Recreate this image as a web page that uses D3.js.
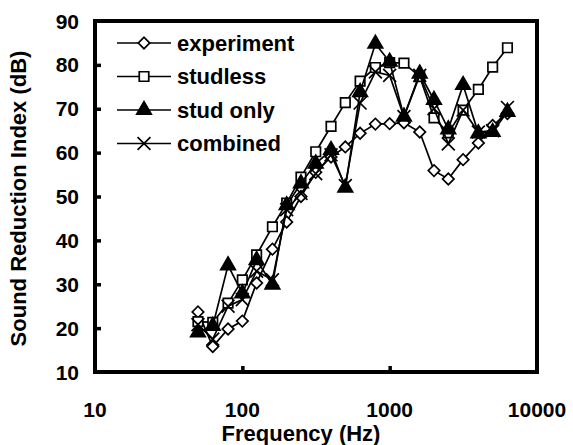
<!DOCTYPE html>
<html>
<head>
<meta charset="utf-8">
<script src="https://cdn.jsdelivr.net/npm/d3@7"></script>
<style>
  body { margin: 0; background: #fff; }
  svg text { font-family: "Liberation Sans", Arial, sans-serif; font-weight: bold; fill: #000; }
</style>
</head>
<body>
<div id="chart"></div>
<script>
// one-third octave band centre frequencies (Hz)
const freqs = [50, 63, 80, 100, 125, 160, 200, 250, 315, 400, 500, 630, 800, 1000, 1250, 1600, 2000, 2500, 3150, 4000, 5000, 6300];

// sound reduction index per band (dB)
const experiment = [23.7, 15.8, 19.8, 21.6, 30.3, 38, 44.2, 50, 55.5, 59, 61.3, 64.4, 66.5, 66.6, 66.8, 64.7, 55.9, 54, 58.4, 62.2, 66.2, 68.9];
const studless   = [21.5, 21.3, 25.7, 31, 36.7, 43.1, 48.5, 54.4, 60.2, 66, 71.4, 76.3, 79.4, 80.5, 80.4, 77.3, 67.9, 64.5, 69.7, 74.4, 79.5, 83.9];
const studOnly   = [19, 20.5, 34.3, 27.9, 35.5, 29.9, 48, 53, 57.5, 60.6, 52, 73.8, 84.8, 80.7, 68.2, 78, 72, 65.3, 75.4, 64.4, 64.7, 69.3];
const combined   = [20.8, 17.5, 25, 26.5, 33, 31, 47, 50.7, 55.2, 59.5, 52.5, 71.3, 78.4, 77.6, 68.2, 77.6, 70, 62, 69.7, 64.7, 65, 70.3];

const seriesNames = ["experiment", "studless", "stud only", "combined"];
const xTicks = [10, 100, 1000, 10000];
const yTicks = [10, 20, 30, 40, 50, 60, 70, 80, 90];

const W = 573, H = 445;
const plot = { left: 95, right: 537, top: 21, bottom: 372 };

const svg = d3.select("#chart").append("svg")
    .attr("width", W).attr("height", H);

const x = d3.scaleLog().domain([10, 10000]).range([plot.left, plot.right]);
const y = d3.scaleLinear().domain([10, 90]).range([plot.bottom, plot.top]);

// marker shapes: open diamond, open square, filled triangle, cross
const markers = [
    { path: d3.symbol(d3.symbolSquare, 66)(), rotate: 45, fill: "#fff" },
    { path: d3.symbol(d3.symbolSquare, 90)(), rotate: 0, fill: "#fff" },
    { path: d3.symbol(d3.symbolTriangle, 92)(), rotate: 0, fill: "#000" },
    { path: d3.symbol(d3.symbolTimes, 110)(), rotate: 0, fill: "none" }
];

const series = [experiment, studless, studOnly, combined].map((vals, i) => ({
    name: seriesNames[i],
    marker: markers[i],
    points: freqs.map((f, j) => ({ f, v: vals[j] }))
}));

const line = d3.line().x(d => x(d.f)).y(d => y(d.v));

// series lines and markers
series.forEach(s => {
    const g = svg.append("g");
    g.append("path")
        .attr("d", line(s.points))
        .attr("fill", "none")
        .attr("stroke", "#000")
        .attr("stroke-width", 1.7);
    g.selectAll("path.mk").data(s.points).join("path")
        .attr("class", "mk")
        .attr("d", s.marker.path)
        .attr("transform", d => `translate(${x(d.f)},${y(d.v)}) rotate(${s.marker.rotate})`)
        .attr("fill", s.marker.fill)
        .attr("stroke", "#000")
        .attr("stroke-width", 1.7);
});

// axes with inward ticks
const yAxis = d3.axisRight(y).tickValues(yTicks.slice(1, -1)).tickSize(6).tickFormat("");
svg.append("g").attr("transform", `translate(${plot.left},0)`).call(yAxis)
    .call(g => g.select(".domain").remove())
    .call(g => g.selectAll("line").attr("stroke-width", 3.5));
const xAxis = d3.axisTop(x).tickValues(xTicks.slice(1, -1)).tickSize(6).tickFormat("");
svg.append("g").attr("transform", `translate(0,${plot.bottom})`).call(xAxis)
    .call(g => g.select(".domain").remove())
    .call(g => g.selectAll("line").attr("stroke-width", 3.5));

// plot frame
svg.append("rect")
    .attr("x", plot.left).attr("y", plot.top)
    .attr("width", plot.right - plot.left).attr("height", plot.bottom - plot.top)
    .attr("fill", "none").attr("stroke", "#000").attr("stroke-width", 4);

// tick labels
svg.append("g").selectAll("text").data(yTicks).join("text")
    .attr("x", plot.left - 16).attr("y", d => y(d)).attr("dy", "0.36em")
    .attr("text-anchor", "end").attr("font-size", 21)
    .text(d => d);
svg.append("g").selectAll("text").data(xTicks).join("text")
    .attr("x", d => x(d)).attr("y", plot.bottom + 45)
    .attr("text-anchor", "middle").attr("font-size", 21)
    .text(d => d);

// axis titles
svg.append("text")
    .attr("x", 301).attr("y", 441)
    .attr("text-anchor", "middle").attr("font-size", 22)
    .text("Frequency (Hz)");
svg.append("text")
    .attr("transform", `translate(26,${(plot.top + plot.bottom) / 2 + 2}) rotate(-90)`)
    .attr("text-anchor", "middle").attr("font-size", 22)
    .text("Sound Reduction Index (dB)");

// legend
const legend = svg.append("g");
series.forEach((s, i) => {
    const ly = 43 + i * 33.5;
    legend.append("line")
        .attr("x1", 117).attr("x2", 171).attr("y1", ly).attr("y2", ly)
        .attr("stroke", "#000").attr("stroke-width", 1.7);
    legend.append("path")
        .attr("d", s.marker.path)
        .attr("transform", `translate(144,${ly}) rotate(${s.marker.rotate})`)
        .attr("fill", s.marker.fill).attr("stroke", "#000").attr("stroke-width", 1.7);
    legend.append("text")
        .attr("x", 177).attr("y", ly).attr("dy", "0.36em")
        .attr("font-size", 22)
        .text(s.name);
});
</script>
</body>
</html>
